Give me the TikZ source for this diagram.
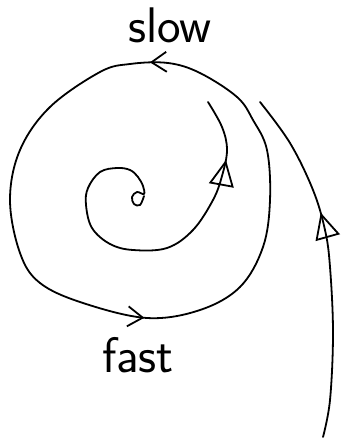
\documentclass[tikz,border=0pt]{standalone}
\usepackage{tikz}
\usetikzlibrary{arrows.meta, decorations.markings}

\begin{document}
\begin{tikzpicture}[x=1pt, y=-1pt,
curve/.style={line width=1.8pt, line cap=round, line join=round},
barb/.style={postaction={decorate, decoration={markings, mark=at position #1 with {\arrow{Straight Barb[length=15pt, width=20pt]}}}}},
tri/.style={postaction={decorate, decoration={markings, mark=at position #1 with {\arrow{Triangle[open, length=26pt, width=25pt]}}}}},
word/.style={font=\fontsize{50}{58}\selectfont\sffamily, anchor=base, inner sep=0pt}
]
\useasboundingbox (0,0) rectangle (342,443);
% limit cycle
\draw[curve, barb=0.022, barb=0.53] plot[smooth cycle, tension=0.6] coordinates {
  (200,73) (168,63) (130,64) (100,72) (50,107) (20,150) (10,200) (20,253) (40,283) (83,303)
  (147,318) (200,310) (240,287) (263,247) (270,200) (267,150) (253,120) (237,97)};
% inner spiral
\draw[curve, tri=0.85] plot[smooth, tension=0.6] coordinates {
  (144,196) (140,205) (134,204) (132,197) (137,192) (144,194) (143,186) (138,177)
  (130,170) (117,168) (100,172) (88,188) (86,205) (92,228) (110,244) (133,250)
  (167,248) (193,230) (213,200) (222,176) (227,150) (222,127) (208,102)};
% outer trajectory
\draw[curve, tri=0.64] plot[smooth, tension=0.6] coordinates {
  (323,437) (330,400) (333,333) (330,267) (325,230) (313,190) (290,143) (260,102)};
\node[word] (slow) at (170,43) {slow};
\node[word] (fast) at (138,372) {fast};
\end{tikzpicture}
\end{document}
